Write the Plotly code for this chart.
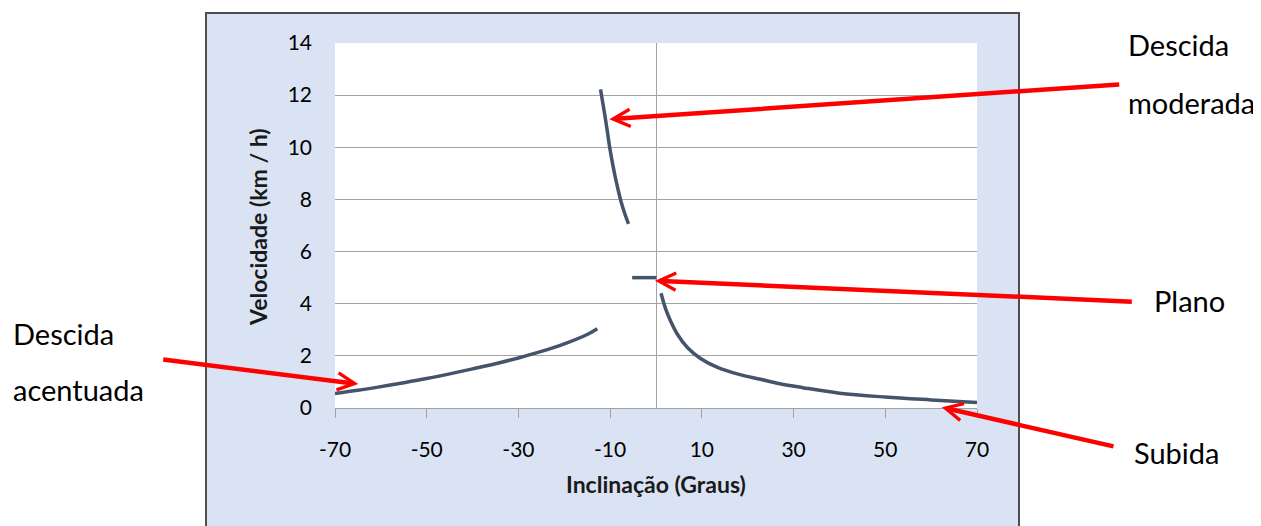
import plotly.graph_objects as go

W, H = 1261, 526
OFF = 8  # page body margin offset of the figure div

# ---- data ----
acentuada_x = [-70, -65, -60, -55, -50, -45, -40, -35, -30, -25, -20, -15, -12.8]
acentuada_y = [0.56, 0.68, 0.82, 0.97, 1.13, 1.31, 1.50, 1.70, 1.92, 2.17, 2.46, 2.82, 3.04]

moderada_x = [-12.1, -11.6, -11.1, -10.6, -10.1, -9.5, -8.9, -8.3, -7.6, -6.8, -6.0]
moderada_y = [12.22, 11.7, 11.17, 10.6, 10.0, 9.4, 8.87, 8.4, 7.9, 7.45, 7.06]

plano_x = [-5.2, 0.1]
plano_y = [5, 5]

subida_x = [1.1, 2.1, 3.2, 4.7, 6.9, 9.7, 13.4, 17.7, 22.8, 27, 32, 40, 50, 60, 70]
subida_y = [4.40, 3.80, 3.33, 2.82, 2.31, 1.90, 1.56, 1.31, 1.10, 0.93, 0.78, 0.57, 0.42, 0.31, 0.21]

x_ticks = [-70, -50, -30, -10, 10, 30, 50, 70]
y_ticks = [0, 2, 4, 6, 8, 10, 12, 14]

LINE = "#44546A"
GRID = "#A3A3A3"
BLUE = "#DAE3F3"
FONT = "Lato"

def px(x):
    return (x - OFF) / W

def py(y):
    return 1 - (y - OFF) / H

# plot area in screen pixels
PL, PR, PT, PB = 335, 977, 43, 408

fig = go.Figure()
for xs, ys in [(acentuada_x, acentuada_y), (moderada_x, moderada_y),
               (plano_x, plano_y), (subida_x, subida_y)]:
    fig.add_trace(go.Scatter(x=xs, y=ys, mode="lines",
                             line=dict(color=LINE, width=3.5, shape="spline", smoothing=1.0),
                             showlegend=False, hoverinfo="skip"))

shapes = [
    dict(type="rect", xref="paper", yref="paper", x0=px(206), x1=px(1019), y0=-0.2, y1=py(13),
         fillcolor=BLUE, line=dict(color="#4D4D4D", width=2), layer="below"),
    dict(type="rect", xref="paper", yref="paper", x0=px(PL), x1=px(PR), y0=py(PB), y1=py(PT),
         fillcolor="white", line=dict(width=0), layer="below"),
]

annotations = []
# arrows: (tip, tail) in screen pixels
arrows = [((609.3, 119.3), (1120.7, 84.3)),
          ((655.0, 280.7), (1133.3, 301.7)),
          ((941.7, 407.3), (1115.0, 446.7)),
          ((358.3, 384.0), (161.7, 359.3))]
for (tx, ty), (sx, sy) in arrows:
    annotations.append(dict(xref="paper", yref="paper", x=px(tx), y=py(ty),
                            ax=sx - tx, ay=sy - ty, text="", showarrow=True,
                            arrowhead=5, arrowsize=0.75, arrowwidth=4.5, arrowcolor="#FF0000"))

labels = [("Descida", 1126, 44), ("moderada", 1126, 103), ("Plano", 1152, 300),
          ("Subida", 1132, 452), ("Descida", 11, 333), ("acentuada", 11, 389)]
for t, x, y in labels:
    annotations.append(dict(xref="paper", yref="paper", x=px(x), y=py(y), text=t,
                            showarrow=False, xanchor="left", yanchor="middle",
                            font=dict(family=FONT, size=29, color="black")))

annotations.append(dict(xref="paper", yref="paper", x=px(656), y=py(484),
                        text="<b>Inclinação (Graus)</b>", showarrow=False,
                        xanchor="center", yanchor="middle",
                        font=dict(family=FONT, size=23, color="#1a1a1a")))
annotations.append(dict(xref="paper", yref="paper", x=px(258), y=py(227),
                        text="<b>Velocidade (km / h)</b>", showarrow=False, textangle=-90,
                        xanchor="center", yanchor="middle",
                        font=dict(family=FONT, size=23, color="#1a1a1a")))

fig.update_layout(
    width=W, height=H,
    margin=dict(l=0, r=0, t=0, b=0, autoexpand=False),
    paper_bgcolor="white",
    plot_bgcolor="rgba(0,0,0,0)",
    shapes=shapes,
    annotations=annotations,
    xaxis=dict(domain=[px(PL), px(PR)], range=[-70, 70], tickvals=x_ticks,
               ticktext=[str(v) for v in x_ticks],
               showgrid=False, zeroline=True, zerolinecolor=GRID, zerolinewidth=1.2,
               showline=True, linecolor=GRID, linewidth=1.2,
               ticks="outside", ticklen=9, tickcolor=GRID, tickwidth=1.2,
               ticklabelstandoff=14,
               tickfont=dict(family=FONT, size=21, color="black")),
    yaxis=dict(domain=[py(PB), py(PT)], range=[0, 14], tickvals=y_ticks,
               ticktext=[str(v) for v in y_ticks],
               showgrid=True, gridcolor=GRID, gridwidth=1.2,
               zeroline=False, showline=False, ticks="",
               ticklabelstandoff=22,
               tickfont=dict(family=FONT, size=21, color="black")),
)

fig.write_html("out.html")
